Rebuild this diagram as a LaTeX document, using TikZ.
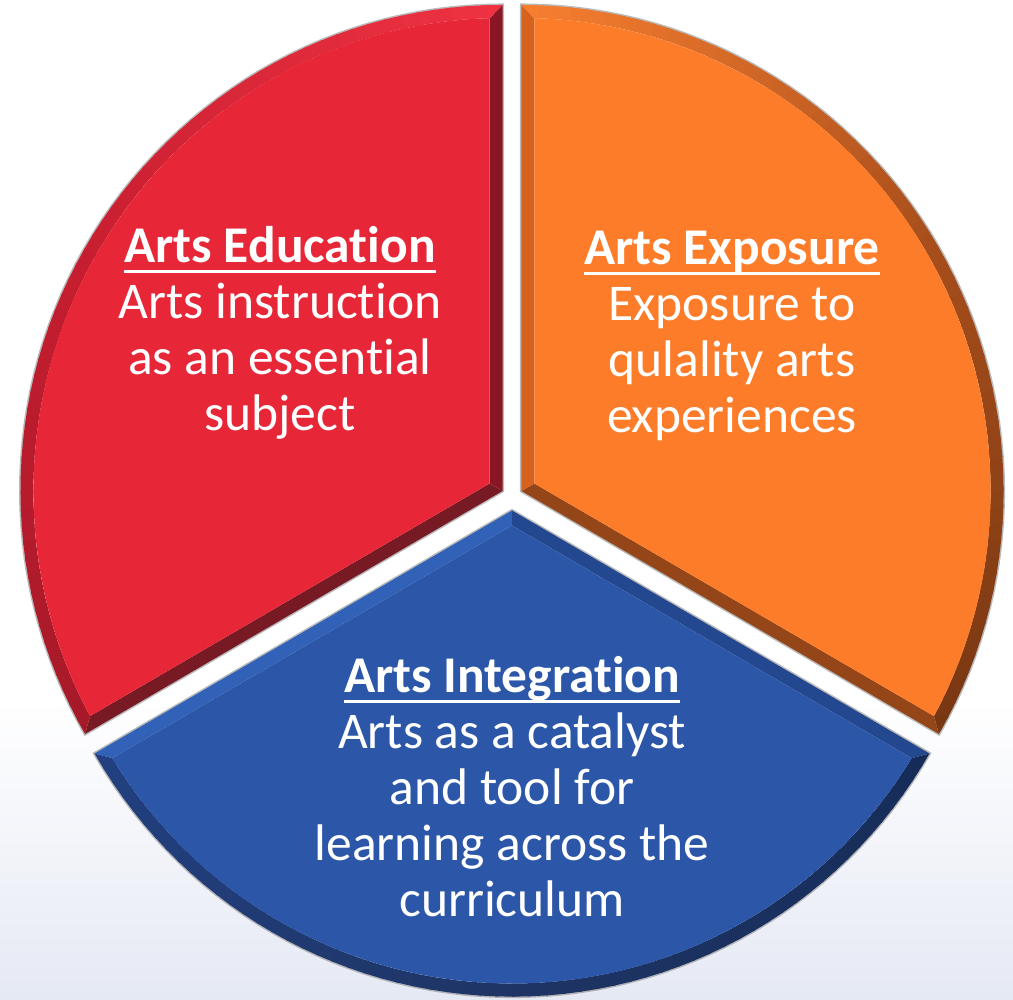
\documentclass[tikz,border=0pt]{standalone}
\usepackage{fontspec}
\setmainfont{Carlito}[Ligatures={NoCommon}]
\definecolor{redface}{RGB}{231,39,56}
\definecolor{redeA}{RGB}{138,21,36}
\definecolor{redeB}{RGB}{120,26,35}
\definecolor{redrA}{RGB}{238,50,66}
\definecolor{redrM}{RGB}{198,30,48}
\definecolor{redrB}{RGB}{165,25,40}
\definecolor{orface}{RGB}{253,124,41}
\definecolor{oreA}{RGB}{148,70,24}
\definecolor{oreB}{RGB}{214,98,30}
\definecolor{orrA}{RGB}{120,55,18}
\definecolor{orrM}{RGB}{168,78,28}
\definecolor{orrB}{RGB}{250,128,48}
\definecolor{blface}{RGB}{44,87,168}
\definecolor{bleA}{RGB}{50,98,184}
\definecolor{bleB}{RGB}{36,72,143}
\definecolor{blrA}{RGB}{34,64,128}
\definecolor{blrM}{RGB}{30,52,100}
\definecolor{blrB}{RGB}{22,44,88}
\definecolor{bgbot}{RGB}{229,233,244}
\def\Rad{486}
\def\Rin{473}
\def\Dlt{1.575}
\def\Api{15.01}
\newcommand\bevsector[9]{%
% #1 bisector, #2 face, #3 edge at b-60, #4 edge at b+60, #5 rim at b-60, #6 rim mid, #7 rim at b+60, #8 name, #9 offset
\begin{scope}[shift={(#1:#9)}]
 \draw[shadowline] (0,0) -- ({#1-60}:\Rad) arc[start angle={#1-60}, end angle={#1+60}, radius=\Rad] -- cycle;
 \fill[#3] (0,0) -- ({#1-60}:\Rad) -- ({#1-60+\Dlt}:\Rin) -- (#1:\Api) -- cycle;
 \fill[#4] (0,0) -- ({#1+60}:\Rad) -- ({#1+60-\Dlt}:\Rin) -- (#1:\Api) -- cycle;
 \begin{scope}
  \clip ({#1-60}:\Rad) arc[start angle={#1-60}, end angle={#1+60}, radius=\Rad] -- ({#1+60-\Dlt}:\Rin) arc[start angle={#1+60-\Dlt}, end angle={#1-60+\Dlt}, radius=\Rin] -- cycle;
  \foreach \k in {0,...,29} {
   \pgfmathsetmacro\ang{#1-60+2*\k}
   \pgfmathtruncatemacro\pc{100*\k/30}
   \fill[#6!\pc!#5] (0,0) -- (\ang:500) arc[start angle=\ang, end angle=\ang+2.4, radius=500] -- cycle;
  }
  \foreach \k in {0,...,29} {
   \pgfmathsetmacro\ang{#1+2*\k}
   \pgfmathtruncatemacro\pc{100*\k/30}
   \fill[#7!\pc!#6] (0,0) -- (\ang:500) arc[start angle=\ang, end angle=\ang+2.4, radius=500] -- cycle;
  }
 \end{scope}
 \fill[#2] (#1:\Api) -- ({#1-60+\Dlt}:\Rin) arc[start angle={#1-60+\Dlt}, end angle={#1+60-\Dlt}, radius=\Rin] -- cycle;
 \coordinate (#8) at (#1:240);
\end{scope}}
\begin{document}
\begin{tikzpicture}[x=1pt,y=1pt,
  shadowline/.style={draw=black!45, line width=3pt, opacity=0.6},
  txt/.style={text=white, inner sep=0pt, anchor=base, font=\fontsize{51.5}{56}\selectfont},
  head/.style={txt, font=\fontsize{51.5}{56}\selectfont\bfseries},
  uline/.style={white, line width=3pt}]
\useasboundingbox (0,0) rectangle (1013,1000);
\fill[white] (0,300) rectangle (1013,1000);
\shade[top color=white, bottom color=bgbot] (0,0) rectangle (1013,300.5);
\begin{scope}[shift={(512,503.5)}, xscale=0.9918]
 \bevsector{150}{redface}{redeA}{redeB}{redrA}{redrM}{redrB}{redc}{11}
 \bevsector{30}{orface}{oreA}{oreB}{orrA}{orrM}{orrB}{orc}{11}
 \bevsector{270}{blface}{bleA}{bleB}{blrA}{blrM}{blrB}{blc}{14}
\end{scope}
% Arts Education
\node[head] (eh) at (280,737) {Arts Education};
\draw[uline] ([yshift=-9pt]eh.base west) -- ([yshift=-9pt]eh.base east);
\node[txt] (e1) at (280,681) {Arts instruction};
\node[txt] (e2) at (280,625) {as an essential};
\node[txt] (e3) at (280,569) {subject};
% Arts Exposure
\node[head] (xh) at (732,735) {Arts Exposure};
\draw[uline] ([yshift=-9pt]xh.base west) -- ([yshift=-9pt]xh.base east);
\node[txt] (x1) at (732,679) {Exposure to};
\node[txt] (x2) at (732,623) {qulality arts};
\node[txt] (x3) at (732,567) {experiences};
% Arts Integration
\node[head] (ih) at (512,307) {Arts Integration};
\draw[uline] ([yshift=-9pt]ih.base west) -- ([yshift=-9pt]ih.base east);
\node[txt] (i1) at (512,251) {Arts as a catalyst};
\node[txt] (i2) at (512,195) {and tool for};
\node[txt] (i3) at (512,139) {learning across the};
\node[txt] (i4) at (512,83) {curriculum};
\end{tikzpicture}
\end{document}
